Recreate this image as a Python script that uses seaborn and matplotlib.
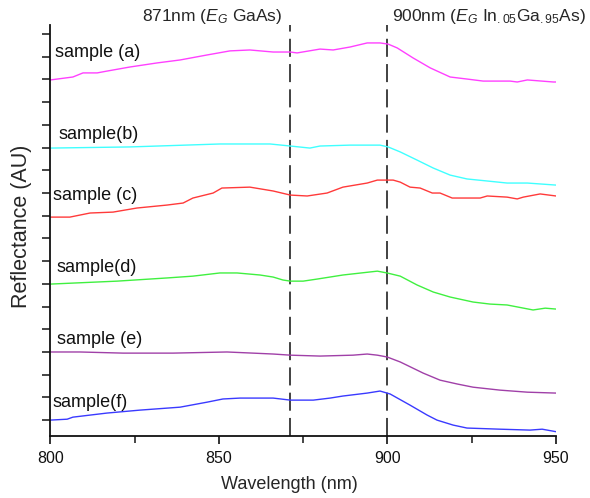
import matplotlib
matplotlib.use("Agg")
import matplotlib.pyplot as plt
import seaborn as sns
import pandas as pd

# ---------------- data ----------------
wl_a = [800, 806.7, 809.7, 813.9, 816.8, 823.6, 831.7, 838.5, 846.5, 853.3, 859.2, 866.1, 871.2, 873.2,
        880.0, 883.9, 888.9, 894.0, 897.8, 900.2, 902.9, 907.6, 912.7, 918.6, 923.6, 928.4, 936.4, 938.5,
        941.5, 949.2, 950]
refl_a = [14.98, 15.11, 15.29, 15.29, 15.37, 15.55, 15.73, 15.86, 16.08, 16.26, 16.30, 16.21, 16.21, 16.17,
          16.34, 16.30, 16.43, 16.61, 16.61, 16.56, 16.39, 15.95, 15.51, 15.11, 15.02, 14.93, 14.93, 14.89,
          14.98, 14.89, 14.89]

wl_b = [800, 823.6, 850.3, 865.2, 871.2, 877.0, 880.0, 888.9, 897.8, 900.2, 903.8, 908.8, 913.6, 918.6,
        923.6, 929.6, 935.5, 941.5, 950]
refl_b = [11.98, 12.03, 12.16, 12.16, 12.07, 11.98, 12.07, 12.11, 12.11, 12.03, 11.81, 11.45, 11.10, 10.79,
          10.62, 10.53, 10.44, 10.44, 10.35]

wl_c = [800, 805.8, 811.8, 818.6, 825.7, 834.6, 839.4, 842.3, 848.3, 850.9, 859.2, 866.1, 871.2, 876.2,
        882.1, 886.8, 894.0, 897.0, 901.7, 903.8, 906.7, 909.7, 913.3, 915.6, 919.2, 927.5, 929.6, 935.5,
        938.5, 940.3, 945.3, 950]
refl_c = [8.94, 8.94, 9.12, 9.16, 9.34, 9.47, 9.56, 9.78, 10.00, 10.22, 10.26, 10.09, 9.91, 9.87,
          10.00, 10.26, 10.44, 10.57, 10.57, 10.48, 10.26, 10.22, 10.00, 10.00, 9.78, 9.78, 9.87, 9.82,
          9.74, 9.82, 9.96, 9.87]

wl_d = [800, 819.8, 834.6, 842.3, 850.3, 855.4, 862.2, 866.1, 869.0, 871.2, 875.0, 879.1, 886.8, 897.0,
        899.9, 903.8, 908.8, 913.6, 918.6, 925.4, 930.4, 935.5, 943.2, 946.8, 950]
refl_d = [5.99, 6.12, 6.26, 6.34, 6.48, 6.48, 6.39, 6.30, 6.17, 6.12, 6.12, 6.21, 6.39, 6.56,
          6.48, 6.34, 5.95, 5.64, 5.42, 5.20, 5.11, 5.07, 4.85, 4.93, 4.89]

wl_e = [800, 808.8, 821.6, 836.4, 852.4, 860.1, 866.1, 871.2, 880.0, 889.8, 894.0, 897.0, 899.9, 903.8,
        910.6, 915.6, 920.7, 925.4, 933.4, 941.5, 950]
refl_e = [3.00, 3.00, 2.95, 2.95, 3.00, 2.95, 2.91, 2.86, 2.82, 2.86, 2.91, 2.86, 2.78, 2.56,
          2.07, 1.76, 1.59, 1.45, 1.32, 1.23, 1.19]

wl_f = [800, 805.0, 806.7, 816.8, 826.6, 838.5, 846.5, 851.2, 856.3, 866.1, 871.2, 878.0, 883.0, 886.8,
        894.0, 897.8, 900.8, 906.7, 911.8, 914.7, 919.5, 923.6, 933.4, 942.3, 945.9, 950]
refl_f = [0.00, 0.04, 0.13, 0.31, 0.44, 0.57, 0.79, 0.93, 0.97, 0.97, 0.88, 0.88, 0.97, 1.06,
          1.19, 1.28, 1.15, 0.66, 0.22, 0.00, -0.22, -0.35, -0.40, -0.44, -0.40, -0.51]

samples = ["a", "b", "c", "d", "e", "f"]
sample_labels = ["sample (a)", "sample(b)", "sample (c)", "sample(d)", "sample (e)", "sample(f)"]
colors = ["#ff40ff", "#40ffff", "#ff3a3a", "#40f040", "#a040a8", "#3a3aff"]
label_x = [801.4, 802.3, 800.8, 801.7, 802.0, 800.8]
label_y = [16.17, 12.56, 9.87, 6.70, 3.57, 0.79]
edge_wavelengths = [871, 900]
edge_labels = [r"871nm ($E_G$ GaAs)", r"900nm ($E_G$ In$_{.05}$Ga$_{.95}$As)"]
x_ticks = [800, 850, 900, 950]

# ---------------- build long table ----------------
wls = [wl_a, wl_b, wl_c, wl_d, wl_e, wl_f]
refls = [refl_a, refl_b, refl_c, refl_d, refl_e, refl_f]
frames = [pd.DataFrame({"Wavelength": w, "Reflectance": r, "sample": s})
          for w, r, s in zip(wls, refls, samples)]
df = pd.concat(frames, ignore_index=True)

# ---------------- style ----------------
sns.set_style("ticks")
plt.rcParams["font.family"] = ["Liberation Sans", "DejaVu Sans"]
plt.rcParams["mathtext.fontset"] = "custom"
plt.rcParams["mathtext.rm"] = "Liberation Sans"
plt.rcParams["mathtext.it"] = "Liberation Sans:italic"
plt.rcParams["mathtext.bf"] = "Liberation Sans:bold"

fig = plt.figure(figsize=(5.9, 4.98), dpi=100)
ax = fig.add_axes([50.3 / 590, 1 - 436 / 498, (556 - 50.3) / 590, (436 - 25) / 498])

sns.lineplot(data=df, x="Wavelength", y="Reflectance", hue="sample", palette=colors,
             estimator=None, sort=False, linewidth=1.0, legend=False, ax=ax)

for xv in edge_wavelengths:
    ax.axvline(xv, color="#333333", linewidth=1.3, dashes=(10, 4), zorder=1)

for lx, ly, t in zip(label_x, label_y, sample_labels):
    ax.text(lx, ly, t, ha="left", va="center", fontsize=13, color="#111111")

ax.set_xlim(800, 950)
ax.set_ylim(-0.70, 17.40)
ax.set_xticks(x_ticks)
ax.set_xticks([825, 875, 925], minor=True)
ax.set_yticks(range(0, 18))
ax.set_yticklabels([])
ax.tick_params(axis="x", which="major", length=6, width=1.2, labelsize=11.5, colors="#111111", pad=5)
ax.tick_params(axis="x", which="minor", length=5, width=1.2)
ax.tick_params(axis="y", which="major", length=6, width=1.2)
for sp in ["top", "right"]:
    ax.spines[sp].set_visible(False)
for sp in ["left", "bottom"]:
    ax.spines[sp].set_linewidth(1.3)
    ax.spines[sp].set_color("#111111")

ax.set_xlabel("Wavelength (nm)", fontsize=13)
ax.set_ylabel("Reflectance (AU)", fontsize=15.5)
ax.xaxis.set_label_coords((289 - 50.3) / 505.7, -(484 - 436) / 411)
ax.yaxis.set_label_coords(-(50.3 - 22) / 505.7, (436 - 226) / 411)
ax.xaxis.label.set_va("center")
ax.yaxis.label.set_va("center")

fig.text(282 / 590, 1 - 17 / 498, edge_labels[0], ha="right", va="center", fontsize=12.5)
fig.text(392 / 590, 1 - 17 / 498, edge_labels[1], ha="left", va="center", fontsize=12.5)

fig.savefig("out.png", dpi=100)
